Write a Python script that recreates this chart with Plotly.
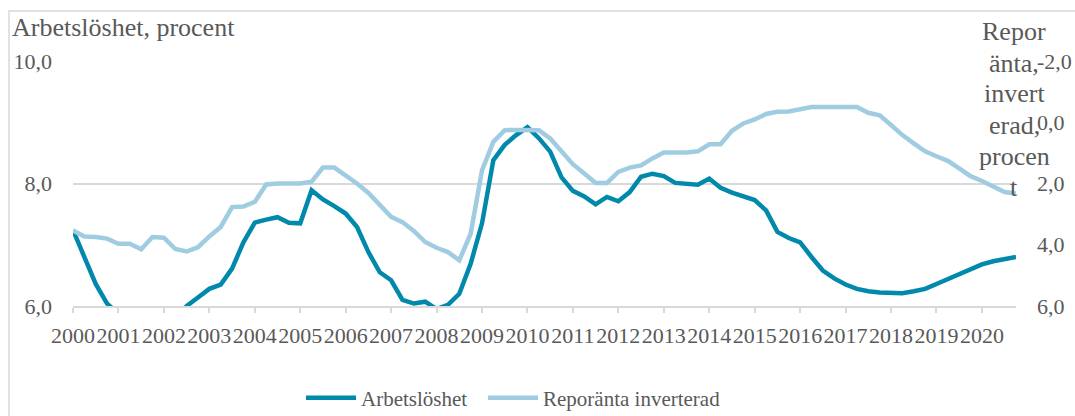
import plotly.graph_objects as go

# Quarterly data 2000Q1 - 2020Q4
years = list(range(2000, 2021))
quarters = [1, 2, 3, 4]

arbetsloshet = [
    7.24, 6.80, 6.36, 6.04,   # 2000
    5.85, 5.70, 5.60, 5.60,   # 2001
    5.60, 5.75, 6.00, 6.14,   # 2002
    6.28, 6.35, 6.61, 7.04,   # 2003
    7.36, 7.41, 7.45, 7.36,   # 2004
    7.35, 7.89, 7.74, 7.63,   # 2005
    7.51, 7.29, 6.88, 6.55,   # 2006
    6.42, 6.10, 6.04, 6.07,   # 2007
    5.95, 6.02, 6.20, 6.69,   # 2008
    7.35, 8.38, 8.63, 8.79,   # 2009
    8.92, 8.74, 8.52, 8.10,   # 2010
    7.88, 7.79, 7.66, 7.78,   # 2011
    7.71, 7.86, 8.11, 8.16,   # 2012
    8.12, 8.01, 8.00, 7.98,   # 2013
    8.08, 7.93, 7.85, 7.79,   # 2014
    7.73, 7.56, 7.21, 7.11,   # 2015
    7.04, 6.80, 6.58, 6.45,   # 2016
    6.35, 6.28, 6.24, 6.22,   # 2017
    6.21, 6.21, 6.24, 6.28,   # 2018
    6.36, 6.44, 6.52, 6.60,   # 2019
    6.68, 6.73, 6.77, 6.80,   # 2020
]

reporanta = [
    3.53, 3.73, 3.75, 3.80,   # 2000
    3.97, 3.97, 4.15, 3.75,   # 2001
    3.77, 4.14, 4.22, 4.08,   # 2002
    3.73, 3.42, 2.77, 2.75,   # 2003
    2.60, 2.03, 2.00, 2.00,   # 2004
    2.00, 1.94, 1.48, 1.48,   # 2005
    1.73, 2.00, 2.31, 2.71,   # 2006
    3.09, 3.26, 3.55, 3.91,   # 2007
    4.10, 4.24, 4.51, 3.64,   # 2008
    1.57, 0.64, 0.26, 0.25,   # 2009
    0.25, 0.26, 0.53, 0.97,   # 2010
    1.37, 1.67, 1.98, 1.98,   # 2011
    1.62, 1.48, 1.41, 1.18,   # 2012
    0.99, 0.99, 0.99, 0.95,   # 2013
    0.72, 0.72, 0.28, 0.04,   # 2014
    -0.09, -0.27, -0.34, -0.35,  # 2015
    -0.43, -0.50, -0.50, -0.50,  # 2016
    -0.50, -0.50, -0.31, -0.23,  # 2017
    0.09, 0.42, 0.69, 0.95,   # 2018
    1.11, 1.26, 1.51, 1.76,   # 2019
    1.92, 2.09, 2.28, 2.33,   # 2020
]

left_ticks = [6, 8, 10]
left_ticktext = ["6,0", "8,0", "10,0"]
right_ticks = [-2, 0, 2, 4, 6]
right_ticktext = ["-2,0", "0,0", "2,0", "4,0", "6,0"]
x_ticktext = [str(y) for y in years]

right_title_lines = ["Repor", "änta,", "invert", "erad,", "procen", "t"]

x = [y + (q - 1) / 4 for y in years for q in quarters]

TEAL = "#0089AA"
LIGHT = "#A0CCE2"
GRAY_TXT = "#595959"
GRID = "#D9D9D9"
FONT = "Liberation Serif"

W, H = 1075, 416
ML, MR, MT, MB = 73, 59, 61, 110
PW, PH = W - ML - MR, H - MT - MB


def px(p):
    return (p - ML) / PW


def py(p):
    return (H - MB - p) / PH


fig = go.Figure()
fig.add_trace(go.Scatter(
    x=x, y=reporanta, name="Reporänta inverterad", mode="lines",
    line=dict(color=LIGHT, width=4.5), yaxis="y2", legend="legend2",
))
fig.add_trace(go.Scatter(
    x=x, y=arbetsloshet, name="Arbetslöshet", mode="lines",
    line=dict(color=TEAL, width=4.5), yaxis="y", legend="legend",
))

legend_common = dict(
    orientation="h", xanchor="left", y=py(398), yanchor="middle",
    font=dict(size=21, family=FONT, color=GRAY_TXT),
    bgcolor="rgba(0,0,0,0)", itemwidth=50,
)

fig.update_layout(
    width=W, height=H,
    margin=dict(l=ML, r=MR, t=MT, b=MB, autoexpand=False),
    paper_bgcolor="white", plot_bgcolor="white",
    font=dict(family=FONT, color=GRAY_TXT, size=22),
    showlegend=True,
    legend=dict(x=px(301), **legend_common),
    legend2=dict(x=px(483), **legend_common),
    xaxis=dict(
        range=[2000, 2020.75], tickvals=years, ticktext=x_ticktext, tickangle=0,
        showgrid=False, showline=True, linecolor=GRID, linewidth=1.5,
        ticks="outside", ticklen=5, tickcolor=GRID, tickwidth=1.5,
        tickfont=dict(size=22, family=FONT, color=GRAY_TXT),
        ticklabelstandoff=4, zeroline=False,
    ),
    yaxis=dict(
        range=[6, 10], tickvals=left_ticks, ticktext=left_ticktext,
        showgrid=True, gridcolor=GRID, gridwidth=1.5, zeroline=False,
        showline=False, ticks="", tickfont=dict(size=22, family=FONT, color=GRAY_TXT),
        ticklabelstandoff=20,
    ),
    yaxis2=dict(
        range=[6, -2], tickvals=right_ticks, ticktext=right_ticktext,
        overlaying="y", side="right", showgrid=False, zeroline=False,
        showline=False, ticks="", tickfont=dict(size=22, family=FONT, color=GRAY_TXT),
        ticklabelstandoff=20,
    ),
)

fig.add_annotation(
    text="Arbetslöshet, procent", xref="paper", yref="paper",
    x=px(10), y=py(28), xanchor="left", yanchor="middle", showarrow=False,
    font=dict(size=26, family=FONT, color=GRAY_TXT),
)
for i, line in enumerate(right_title_lines):
    fig.add_annotation(
        text=line, xref="paper", yref="paper",
        x=px(1014), y=py(32 + 31 * i), xanchor="center", yanchor="middle",
        showarrow=False, font=dict(size=26, family=FONT, color=GRAY_TXT),
    )

fig.add_shape(
    type="rect", xref="paper", yref="paper",
    x0=px(9), x1=px(1090), y0=py(430), y1=py(11),
    line=dict(color=GRID, width=1.5), fillcolor="rgba(0,0,0,0)", layer="below",
)

fig.write_html(
    "out.html",
    config={"displayModeBar": False},
    post_script="document.body.style.margin='0';document.body.style.overflow='hidden';",
)
